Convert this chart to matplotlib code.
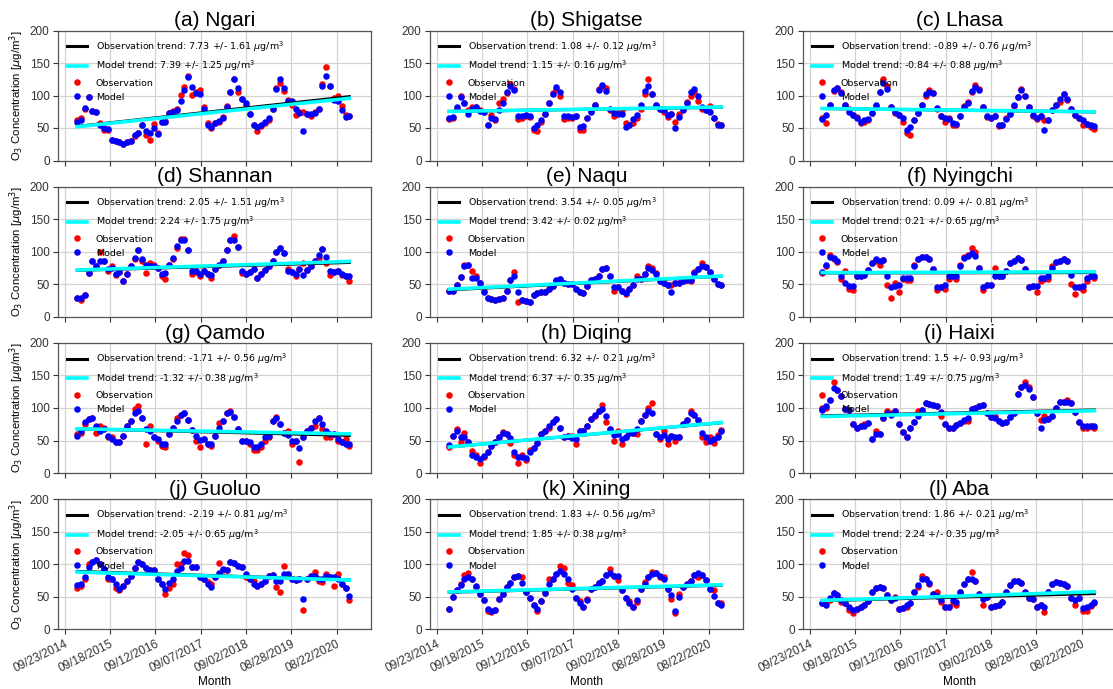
import numpy as np
import pandas as pd
import matplotlib
matplotlib.use("Agg")
import matplotlib.pyplot as plt
import matplotlib.dates as mdates
from matplotlib.lines import Line2D

plt.rcParams['font.family'] = ['Liberation Sans', 'DejaVu Sans']

months = pd.date_range('2015-01-01', periods=72, freq='MS')

titles = ['(a) Ngari', '(b) Shigatse', '(c) Lhasa', '(d) Shannan', '(e) Naqu', '(f) Nyingchi',
          '(g) Qamdo', '(h) Diqing', '(i) Haixi', '(j) Guoluo', '(k) Xining', '(l) Aba']

ngari_obs = [63,65,79,97,76,75,57,47,47,31,30,29, 25,28,30,38,42,54,40,32,56,42,60,61,
             73,76,80,101,113,130,101,106,108,83,57,50, 58,60,67,84,106,125,106,95,85,72,55,45,
             53,57,62,80,111,120,107,93,85,70,74,75, 72,68,75,80,117,144,115,96,100,84,70,68]
ngari_mod = [60,63,81,97,76,75,55,50,49,31,30,29, 26,28,30,39,42,54,45,42,50,41,60,60,
             73,75,78,92,108,129,113,104,103,80,55,52, 58,61,66,82,105,125,111,95,89,71,55,52,
             55,59,66,80,110,126,112,92,92,79,73,46, 72,71,73,80,114,130,115,93,92,78,67,68]
shigatse_obs = [64,66,80,99,88,77,82,82,78,74,54,70, 63,89,95,104,118,110,64,66,68,67,47,46,
                60,72,88,104,110,100,64,65,66,68,47,47, 65,76,86,110,115,112,77,68,73,78,58,55,
                58,65,80,103,126,103,85,80,74,67,72,60, 72,80,90,100,105,92,80,78,84,66,56,55]
shigatse_mod = [65,67,83,97,88,71,79,82,76,74,54,65, 64,78,88,105,115,108,68,68,70,68,50,55,
                63,72,88,103,113,106,68,68,67,68,51,53, 66,75,86,108,116,107,79,73,72,72,52,54,
                64,70,85,107,115,102,85,80,77,70,72,50, 67,78,88,105,110,100,83,77,75,66,55,55]
lhasa_obs = [66,57,85,107,112,105,85,80,70,67,58,60, 63,73,84,105,126,115,82,73,70,60,42,40,
             62,73,85,100,108,104,80,68,60,65,55,55, 68,84,90,105,116,110,82,67,65,68,53,55,
             65,72,84,97,110,100,83,69,64,68,62,62, 77,86,90,102,93,80,70,66,54,56,52,49]
lhasa_mod = [64,70,85,108,112,104,85,75,70,66,60,62, 64,73,85,105,119,110,82,74,70,65,47,52,
             62,73,85,103,106,104,81,68,65,64,57,56, 69,82,88,107,113,108,82,68,65,68,54,55,
             64,72,85,98,108,100,82,70,66,68,47,62, 77,86,95,103,95,80,70,66,62,56,55,53]
shannan_obs = [28,25,33,67,85,78,100,85,70,77,64,68, 55,65,77,88,103,85,67,83,79,74,62,58,
               80,88,105,120,120,102,65,68,62,70,65,60, 73,80,85,103,118,124,107,67,65,68,73,60,
               66,72,78,86,100,106,97,73,68,62,73,83, 72,78,85,90,104,83,64,68,70,64,62,55]
shannan_mod = [28,28,33,67,85,78,85,85,73,75,65,68, 55,65,77,90,103,89,80,78,78,74,65,67,
               80,90,108,118,117,103,70,70,66,70,66,64, 73,80,85,103,118,118,107,70,66,68,73,60,
               66,72,78,86,100,105,97,70,68,65,73,64, 72,78,85,95,104,92,70,68,70,66,62,62]
naqu_obs = [40,40,48,61,80,80,70,62,52,39,29,27, 26,27,29,40,56,68,23,26,24,22,33,36,
            38,37,43,47,55,58,52,50,50,43,37,36, 47,56,58,62,73,74,62,40,45,39,35,43,
            49,62,58,65,77,75,67,55,52,49,49,51, 52,55,56,54,68,73,82,76,69,57,50,48]
naqu_mod = [39,40,48,61,78,79,60,60,52,38,29,27, 26,27,29,40,56,63,37,26,24,23,33,36,
            37,37,43,47,56,58,52,50,50,43,37,36, 47,56,58,62,73,74,62,46,45,39,36,43,
            49,58,58,65,74,72,65,55,52,49,38,51, 52,55,56,56,67,73,78,76,69,57,50,48]
nyingchi_obs = [67,78,94,88,84,58,70,43,41,62,63,64, 72,83,86,79,87,48,29,52,38,57,56,56,
                80,88,92,92,88,73,41,46,42,58,63,58, 80,92,95,105,100,74,41,48,49,75,63,63,
                70,82,85,90,87,73,46,47,38,55,57,57, 78,84,86,88,86,50,35,46,41,55,63,60]
nyingchi_mod = [68,80,92,90,86,62,52,47,47,62,63,64, 72,83,88,85,87,62,45,47,48,60,60,60,
                78,88,92,92,88,73,45,46,48,62,63,62, 78,90,93,97,93,74,45,48,49,63,63,63,
                70,82,85,90,87,73,46,47,47,59,60,63, 75,84,86,88,86,64,45,46,47,60,63,62]
qamdo_obs = [60,62,76,83,84,62,73,70,55,55,47,47, 57,72,80,98,103,85,45,72,55,50,41,40,
             60,70,85,90,92,82,66,50,40,52,45,42, 57,77,80,92,96,86,67,50,50,45,35,36,
             40,50,55,80,86,75,62,65,45,50,17,56, 65,70,72,84,68,55,55,60,50,48,53,42]
qamdo_mod = [57,65,78,83,84,72,65,68,57,52,47,47, 57,72,80,93,95,85,68,65,55,52,45,45,
             60,70,80,90,92,82,66,57,51,52,45,44, 57,70,80,92,94,86,67,50,50,47,40,40,
             44,55,57,80,84,75,62,58,50,50,38,56, 65,70,80,84,75,65,60,60,52,48,45,44]
diqing_obs = [40,57,67,47,61,47,34,27,16,24,32,42, 48,56,63,60,46,27,16,28,20,36,38,46,
              60,65,70,78,83,70,55,57,57,45,64,65, 73,83,88,96,105,78,67,50,65,45,55,62,
              62,60,80,90,100,107,60,52,65,45,57,50, 55,76,82,95,90,82,55,47,55,46,58,66]
diqing_mod = [43,57,64,55,56,47,28,25,22,26,32,42, 48,56,62,60,54,32,25,25,23,32,38,46,
              60,65,73,78,83,70,55,57,54,53,64,65, 73,83,90,96,98,88,67,58,60,53,55,62,
              62,68,80,90,95,93,60,56,58,52,57,55, 55,76,82,93,90,82,62,55,50,52,55,64]
haixi_obs = [100,100,112,140,128,118,98,97,75,70,72,75, 77,52,65,60,85,96,93,95,76,63,56,70,
             78,95,97,108,106,104,103,88,75,70,70,74, 77,80,80,98,100,103,105,93,86,88,80,77,
             78,86,93,122,132,140,133,117,93,81,87,83, 88,100,110,110,113,108,94,79,70,70,72,70]
haixi_mod = [97,103,112,131,128,118,98,97,75,70,72,73, 77,52,60,60,85,93,90,95,76,63,56,70,
             78,88,97,107,106,104,103,94,75,70,70,74, 77,82,85,98,100,103,105,93,86,84,80,77,
             78,86,93,122,132,136,130,117,93,70,82,83, 88,100,110,110,110,108,94,79,73,73,72,72]
guoluo_obs = [64,67,77,101,103,107,100,93,77,77,63,60, 67,75,82,95,103,100,95,92,91,78,70,55,
              63,70,100,100,117,115,96,96,80,78,73,70, 80,102,92,92,103,102,98,96,80,78,75,67,
              70,75,82,84,65,58,98,85,77,76,78,30, 78,82,88,74,73,85,80,67,85,70,64,45]
guoluo_mod = [68,70,80,96,103,106,100,93,80,77,70,62, 67,75,82,95,103,100,95,92,91,78,70,62,
              72,77,90,95,105,105,96,96,80,78,70,65, 80,87,93,92,103,102,98,96,85,78,70,67,
              70,75,82,84,75,74,85,85,77,76,78,46, 78,82,82,78,77,82,80,80,78,70,64,52]
xining_obs = [32,50,60,70,84,86,77,65,55,45,28,27, 30,47,55,65,72,80,82,80,57,48,37,28,
              43,56,78,78,85,98,95,72,68,48,43,35, 47,62,65,72,75,83,93,82,76,61,48,43,
              35,42,62,73,80,88,86,80,80,62,47,25, 55,65,70,74,84,80,83,76,62,60,41,41]
xining_mod = [32,50,60,68,78,80,77,67,55,45,32,28, 30,47,55,65,72,80,82,72,57,48,37,32,
              43,56,70,78,85,90,85,78,62,48,40,35, 45,62,65,72,75,83,87,82,82,61,48,40,
              35,45,62,70,80,85,86,82,78,62,53,28, 50,65,70,74,84,86,83,76,62,51,41,38]
aba_obs = [40,40,45,56,53,42,40,30,25,32,35,38, 43,58,63,65,63,53,45,50,32,33,35,40,
           58,65,82,77,70,55,57,42,35,35,40,37, 58,70,78,88,74,55,37,50,35,36,38,42,
           58,68,75,74,72,57,48,47,35,38,26,58, 70,73,72,70,67,48,37,48,28,28,36,40]
aba_mod = [40,38,48,56,53,45,40,35,30,32,35,38, 43,58,63,65,63,53,45,48,32,33,38,40,
           58,68,78,77,72,55,52,45,35,35,45,42, 58,70,78,78,74,55,47,50,35,36,38,42,
           58,68,75,74,72,57,48,47,35,38,35,58, 70,73,72,70,67,48,45,48,33,35,38,42]

obs_series = [ngari_obs, shigatse_obs, lhasa_obs, shannan_obs, naqu_obs, nyingchi_obs,
              qamdo_obs, diqing_obs, haixi_obs, guoluo_obs, xining_obs, aba_obs]
mod_series = [ngari_mod, shigatse_mod, lhasa_mod, shannan_mod, naqu_mod, nyingchi_mod,
              qamdo_mod, diqing_mod, haixi_mod, guoluo_mod, xining_mod, aba_mod]

# trend per year (from the legend labels) and starting level of each fitted line
obs_slope = [7.73, 1.08, -0.89, 2.05, 3.54, 0.09, -1.71, 6.32, 1.5, -2.19, 1.83, 1.86]
obs_err = [1.61, 0.12, 0.76, 1.51, 0.05, 0.81, 0.56, 0.21, 0.93, 0.81, 0.56, 0.21]
mod_slope = [7.39, 1.15, -0.84, 2.24, 3.42, 0.21, -1.32, 6.37, 1.49, -2.05, 1.85, 2.24]
mod_err = [1.25, 0.16, 0.88, 1.75, 0.02, 0.65, 0.38, 0.35, 0.75, 0.65, 0.38, 0.35]
obs_start = [52.5, 75.5, 80, 71, 41, 67, 68, 40, 88, 89, 57, 44]
mod_start = [52, 75.5, 80, 71.5, 42, 67.5, 68, 40, 87, 88, 57.5, 44.5]

tick_dates = pd.to_datetime(['2014-09-23', '2015-09-18', '2016-09-12', '2017-09-07',
                             '2018-09-02', '2019-08-28', '2020-08-22'])
xlim = pd.to_datetime(['2014-08-01', '2021-05-22'])

W, H = 1113, 689
fig = plt.figure(figsize=(W / 100, H / 100), dpi=100)
col_left = [58, 430, 803]
row_top = [30.5, 186.5, 343, 499.3]
aw, ah = 313, 130

years = np.array([(d - months[0]).days / 365.25 for d in months])

for k in range(12):
    r, c = divmod(k, 3)
    ax = fig.add_axes([col_left[c] / W, 1 - (row_top[r] + ah) / H, aw / W, ah / H])
    ax.grid(True, color='#d3d3d3', lw=0.9)
    ax.set_axisbelow(True)
    ax.scatter(months, obs_series[k], s=22, color='red', linewidths=0, zorder=2)
    ax.scatter(months, mod_series[k], s=22, color='blue', linewidths=0, zorder=2)
    ax.plot(months, obs_start[k] + obs_slope[k] * years, color='black', lw=2.2, zorder=3)
    ax.plot(months, mod_start[k] + mod_slope[k] * years, color='cyan', lw=2.6, zorder=3)
    ax.set_ylim(0, 200)
    ax.set_yticks([0, 50, 100, 150, 200])
    ax.set_xlim(xlim[0], xlim[1])
    ax.set_xticks(tick_dates)
    ax.xaxis.set_major_formatter(mdates.DateFormatter('%m/%d/%Y'))
    ax.tick_params(labelsize=8.5, length=3.5, width=0.8, colors='#333333', pad=2.5)
    for sp in ax.spines.values():
        sp.set_color('#555555')
        sp.set_linewidth(0.9)
    ax.set_title(titles[k], fontsize=15, pad=3)
    if r < 3:
        ax.tick_params(labelbottom=False)
    else:
        for lab in ax.get_xticklabels():
            lab.set_rotation(26)
            lab.set_ha('right')
            lab.set_rotation_mode('anchor')
        ax.set_xlabel('Month', fontsize=8.5, labelpad=1)
    if c == 0:
        ax.set_ylabel(r'O$_3$ Concentration [$\mu$g/m$^3$]', fontsize=8.2, labelpad=3)
    handles = [
        Line2D([], [], color='black', lw=2.2),
        Line2D([], [], color='cyan', lw=2.6),
        Line2D([], [], ls='', marker='o', ms=4.7, color='red', mew=0),
        Line2D([], [], ls='', marker='o', ms=4.7, color='blue', mew=0),
    ]
    labels = [
        f'Observation trend: {obs_slope[k]:g} +/- {obs_err[k]:g} $\\mu$g/m$^3$',
        f'Model trend: {mod_slope[k]:g} +/- {mod_err[k]:g} $\\mu$g/m$^3$',
        'Observation', 'Model',
    ]
    ax.legend(handles, labels, loc='upper left', frameon=False,
              prop={'family': 'DejaVu Sans', 'size': 6.8},
              labelspacing=0.55, handlelength=2.2, handletextpad=0.9)

fig.savefig('out.png', dpi=100)
